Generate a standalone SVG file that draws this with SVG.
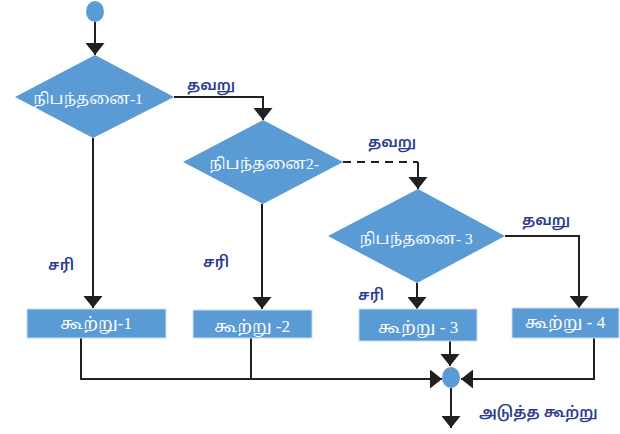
<svg xmlns="http://www.w3.org/2000/svg" width="620" height="434" viewBox="0 0 620 434">
<style>
.shape{fill:#5b9bd5}
.box{fill:#5b9bd5;stroke:#c9def2;stroke-width:1}
.in{fill:#ffffff;font-family:"Liberation Serif","Noto Serif Tamil","Noto Sans Tamil",serif;font-size:17px;text-anchor:middle}
.dt{font-size:15.5px}
.lbl{fill:#2b3b8f;font-family:"Liberation Sans","Noto Sans Tamil",sans-serif;font-size:15px;font-weight:600}
.ln{fill:none;stroke:#231f20;stroke-width:2}
.dash{stroke-dasharray:8,6}
</style>
<defs>
<marker id="ah" markerUnits="userSpaceOnUse" markerWidth="13" markerHeight="19" refX="12" refY="9.5" orient="auto">
<path d="M0,0 L12,9.5 L0,19 Z" fill="#231f20"/>
</marker>
</defs>
<g id="connectors">
<path class="ln" d="M95,22 V55" marker-end="url(#ah)"/>
<path class="ln" d="M174,97 H263 V120" marker-end="url(#ah)"/>
<path class="ln" d="M93,138 V308" marker-end="url(#ah)"/>
<path class="ln dash" d="M343,162 H418" />
<path class="ln" d="M418,162 V189" marker-end="url(#ah)"/>
<path class="ln" d="M262,204 V309" marker-end="url(#ah)"/>
<path class="ln" d="M505,236 H579 V308" marker-end="url(#ah)"/>
<path class="ln" d="M417,283 V309" marker-end="url(#ah)"/>
<path class="ln" d="M81,338 V379 H442" marker-end="url(#ah)"/>
<path class="ln" d="M251,338 V379"/>
<path class="ln" d="M594,338 V379 H461" marker-end="url(#ah)"/>
<path class="ln" d="M450,341 V366" marker-end="url(#ah)"/>
<path class="ln" d="M451,388 V428" marker-end="url(#ah)"/>
<text class="lbl" x="187" y="90">தவறு</text>
<text class="lbl" x="368" y="147">தவறு</text>
<text class="lbl" x="522" y="225">தவறு</text>
<text class="lbl" x="48" y="270">சரி</text>
<text class="lbl" x="203" y="267">சரி</text>
<text class="lbl" x="358" y="300">சரி</text>
<text class="lbl" x="479" y="417">அடுத்த கூற்று</text>
</g>
<g id="start"><ellipse class="shape" cx="95" cy="11.5" rx="9" ry="10.5"/></g>
<g id="cond1">
<polygon class="shape" points="95,55 174,97 93,138 15,97"/>
<text class="in dt" x="88" y="104">நிபந்தனை-1</text>
</g>
<g id="cond2">
<polygon class="shape" points="263,120 343,162 263,204 183,162"/>
<text class="in dt" x="264" y="169">நிபந்தனை2-</text>
</g>
<g id="cond3">
<polygon class="shape" points="418,189 505,236 417,283 328,236"/>
<text class="in dt" x="416" y="244">நிபந்தனை- 3</text>
</g>
<g id="stmt1">
<rect class="box" x="27" y="309" width="139" height="29"/>
<text class="in" x="96" y="329">கூற்று-1</text>
</g>
<g id="stmt2">
<rect class="box" x="193" y="310" width="119" height="28"/>
<text class="in" x="252" y="332">கூற்று -2</text>
</g>
<g id="stmt3">
<rect class="box" x="359" y="309" width="118" height="32"/>
<text class="in" x="418" y="333">கூற்று - 3</text>
</g>
<g id="stmt4">
<rect class="box" x="512" y="308" width="107" height="30"/>
<text class="in" x="565" y="328">கூற்று - 4</text>
</g>
<g id="merge"><ellipse class="shape" cx="451" cy="377.5" rx="9" ry="10.5"/></g>
</svg>
